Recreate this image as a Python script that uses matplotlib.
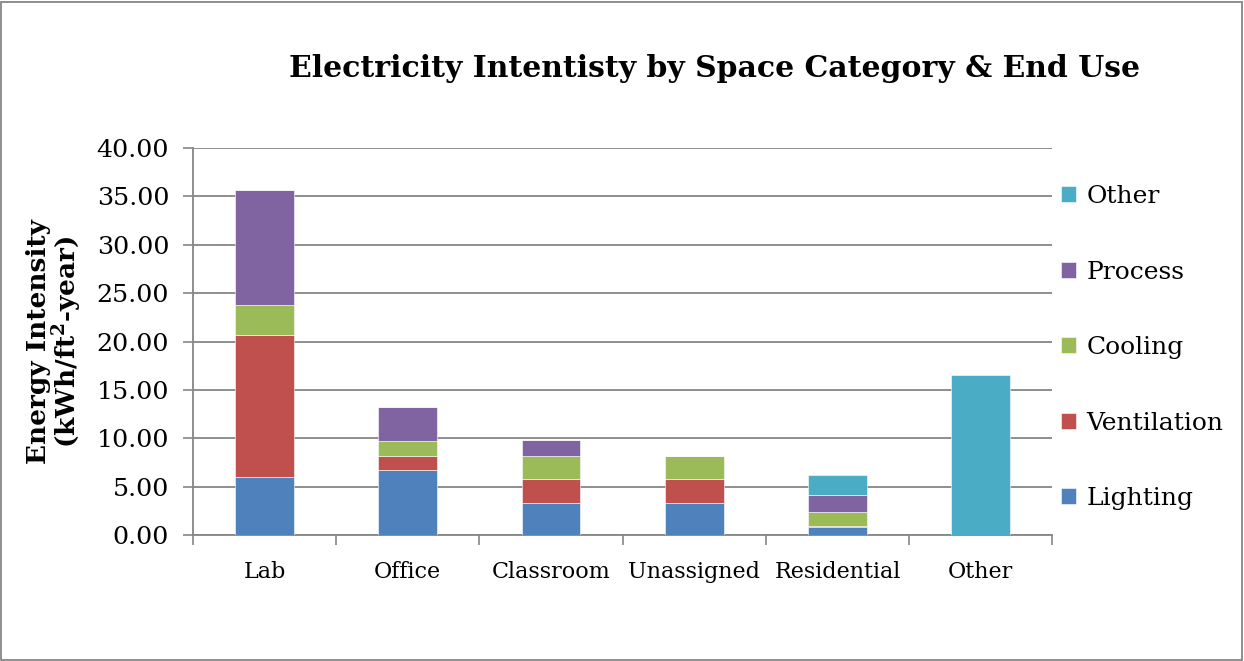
import matplotlib
matplotlib.use("Agg")
import matplotlib.pyplot as plt
import numpy as np
from matplotlib.patches import Rectangle

plt.rcParams['font.family'] = ['DejaVu Serif']
plt.rcParams['mathtext.fontset'] = 'dejavuserif'

categories = ["Lab", "Office", "Classroom", "Unassigned", "Residential", "Other"]
lighting = [5.97, 6.76, 3.31, 3.31, 0.78, 0.0]
ventilation = [14.66, 1.45, 2.49, 2.49, 0.15, 0.0]
cooling = [3.11, 1.55, 2.41, 2.41, 1.45, 0.0]
process = [11.90, 3.52, 1.62, 0.0, 1.79, 0.0]
other = [0.0, 0.0, 0.0, 0.0, 2.01, 16.53]

series_names = ["Lighting", "Ventilation", "Cooling", "Process", "Other"]
series_values = [lighting, ventilation, cooling, process, other]
series_colors = ["#4F81BD", "#C0504D", "#9BBB59", "#8064A2", "#4BACC6"]

fig = plt.figure(figsize=(12.44, 6.61), dpi=100)
ax = fig.add_axes([0.155, 0.1906, 0.691, 0.5854])

x = np.arange(len(categories))
bottom = np.zeros(len(categories))
handles = []
for name, vals, col in zip(series_names, series_values, series_colors):
    vals = np.array(vals)
    h = ax.bar(x, vals, width=0.41, bottom=bottom, color=col, label=name,
               edgecolor="white", linewidth=0.4, zorder=3)
    handles.append(h)
    bottom += vals

ax.set_xlim(-0.5, len(categories) - 0.5)
ax.set_ylim(0, 40)
ax.set_yticks(np.arange(0, 40.1, 5))
ax.set_yticklabels([f"{v:.2f}" for v in np.arange(0, 40.1, 5)], fontsize=18.3)
ax.yaxis.grid(True, color="#868686", linewidth=1.3, zorder=0)
ax.set_axisbelow(True)

ax.set_xticks(x)
ax.set_xticklabels(categories, fontsize=16)
ax.set_xticks(np.arange(-0.5, len(categories)), minor=True)
ax.tick_params(axis="x", which="major", length=0, pad=18.5)
ax.tick_params(axis="x", which="minor", length=7, color="#868686", width=1.2, direction="out")
ax.tick_params(axis="y", length=7, color="#868686", width=1.2, direction="out", pad=10)

for s in ["top", "right"]:
    ax.spines[s].set_visible(False)
for s in ["left", "bottom"]:
    ax.spines[s].set_color("#868686")
    ax.spines[s].set_linewidth(1.3)

ax.set_ylabel("Energy Intensity\n(kWh/ft$^{\\mathbf{2}}$-year)", fontsize=19,
              fontweight="bold", linespacing=1.0, labelpad=9)

fig.text(0.574, 0.897, "Electricity Intentisty by Space Category & End Use",
         ha="center", va="center", fontsize=21.5, fontweight="bold")

leg = fig.legend(handles[::-1], series_names[::-1], loc="upper left",
                 bbox_to_anchor=(0.845, 0.735), frameon=False, fontsize=18,
                 handlelength=0.6, handleheight=0.6, handletextpad=0.4,
                 labelspacing=2.1, borderaxespad=0)

fig.add_artist(Rectangle((0.001, 0.002), 0.997, 0.995, transform=fig.transFigure,
                         fill=False, edgecolor="#868686", linewidth=1.3))

fig.savefig("out.png", dpi=100)
